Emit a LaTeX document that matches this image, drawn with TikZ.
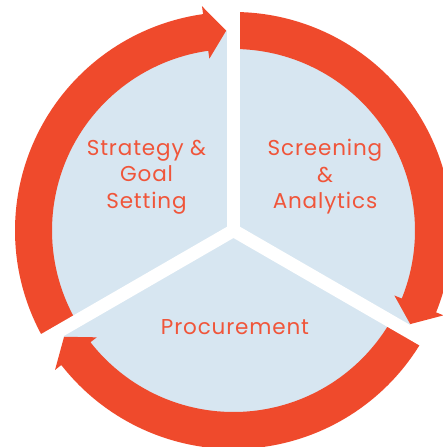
\documentclass[tikz,border=0pt]{standalone}
\usepackage{fontspec}
\setmainfont{Poppins}[LetterSpace=4]
\usepackage{tikz}

\definecolor{ringred}{HTML}{EF4A2C}
\definecolor{textred}{HTML}{F0553A}
\definecolor{discblue}{HTML}{D7E6F1}

\tikzset{
  phase/.style={text=textred, align=center, font=\fontsize{21.5}{26.5}\selectfont},
  gap/.style={white, line width=13, line cap=round}
}

\begin{document}
\begin{tikzpicture}[x=1pt, y=1pt]
\useasboundingbox (-233.5, -216.5) rectangle (209.5, 230.5);

\fill[discblue] (0, 0) circle (200);

% the three arrows of the cycle: start / head / tip angle
\foreach \s/\h/\t in {210/98/92.1, 90/-22/-27.9, -30/-142/-147.9}
  \fill[ringred] (\s:218.5) arc[start angle=\s, end angle=\h, radius=218.5]
    -- (\h:226.5) -- (\t:200) -- (\h:173.5)
    -- (\h:181.5) arc[start angle=\h, end angle=\s, radius=181.5] -- cycle;

\coordinate (c) at (0, 0);
\coordinate (g1) at (90:250);
\coordinate (g2) at (-30:250);
\coordinate (g3) at (210:250);
\draw[gap] (c) -- (g1);
\draw[gap] (c) -- (g2);
\draw[gap] (c) -- (g3);

\node[phase] (strategy) at (-87, 53.5) {Strategy \&\\Goal\\Setting};
\node[phase] (screening) at (91.5, 53.5) {Screening\\\&\\Analytics};
\node[phase] (procurement) at (1.5, -96.5) {Procurement};
\end{tikzpicture}
\end{document}
